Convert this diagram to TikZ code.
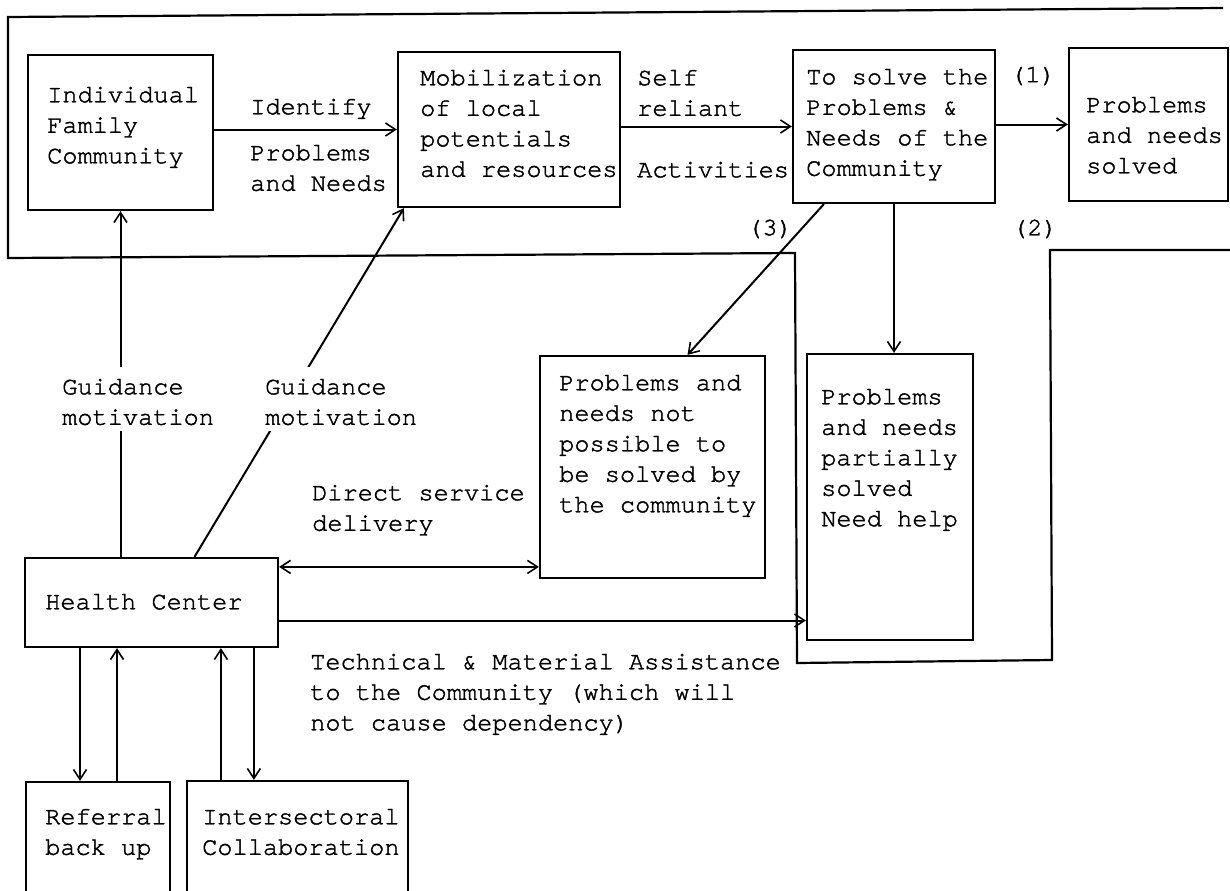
\documentclass[tikz,border=0pt]{standalone}
\usepackage{fontspec}
\newfontfamily\tw{TeX Gyre Cursor}[FakeBold=1.6]
\usetikzlibrary{arrows.meta,fit,calc}
\begin{document}
\begin{tikzpicture}[x=1bp,y=-1bp,
  box/.style={draw, line width=2.2bp, inner sep=0pt},
  txt/.style={font=\tw\fontsize{25.3bp}{30.5bp}\selectfont, align=left,
              inner sep=0pt, anchor=north west},
  gap/.style={txt, fill=white, inner xsep=2bp, inner ysep=6bp},
  barb/.tip={Straight Barb[length=10bp,width=13bp,line width=1.6bp]},
  arr/.style={line width=2bp, -barb},
  darr/.style={line width=2bp, barb-barb},
  wire/.style={line width=2.2bp, line join=miter}
]
\useasboundingbox (0,0) rectangle (1230,891);
\clip (0,0) rectangle (1230,891);

% community frame
\draw[wire] (1223,8) -- (8,17) -- (8,258) -- (795,253) -- (797,663)
            -- (1052,660) -- (1050,250) -- (1232,250);

% boxes
\node[box, fit={(28,55) (213,210)}]    (ind)   {};
\node[box, fit={(398,52) (620,207)}]   (mob)   {};
\node[box, fit={(793,50) (995,203)}]   (sol)   {};
\node[box, fit={(1069,48) (1228,201)}] (done)  {};
\node[box, fit={(540,356) (765,578)}]  (notp)  {};
\node[box, fit={(807,354) (973,640)}]  (part)  {};
\node[box, fit={(25,558) (278,647)}]   (hc)    {};
\node[box, fit={(26,782) (170,905)}]   (ref)   {};
\node[box, fit={(187,781) (408,905)}]  (inter) {};

% box texts
\node[txt] (indT)   at (47,80.7)    {\strut Individual\\Family\\Community};
\node[txt] (mobT)   at (420,63.7)   {\strut Mobilization\\of local\\potentials\\and resources};
\node[txt] (solT)   at (806,62.7)   {\strut To solve the\\Problems \&\\Needs of the\\Community};
\node[txt] (doneT)  at (1086,90.7)  {\strut Problems\\and needs\\solved};
\node[txt] (notpT)  at (559,368.7)  {\strut Problems and\\needs not\\possible to\\be solved by\\the community};
\node[txt] (partT)  at (821,382.7)  {\strut Problems\\and needs\\partially\\solved\\Need help};
\node[txt] (hcT)    at (45,587.7)   {\strut Health Center};
\node[txt] (refT)   at (45,802.7)   {\strut Referral\\back up};
\node[txt] (interT) at (202,802.7)  {\strut Intersectoral\\Collaboration};

% flow along the top row
\draw[arr] (ind.east |- mob.west) -- (mob.west);
\draw[arr] (mob.east |- sol.west) -- (sol.west);
\draw[arr] (sol.east |- done.west) -- (done.west);

% outcomes (2) and (3)
\draw[arr] ([xshift=32bp]sol.south west) -- ([xshift=35bp]notp.north);
\draw[arr] (sol.south) -- (sol.south |- part.north);

% health center links
\draw[arr] (hc.north -| ind.south) -- (ind.south);
\draw[arr] ([xshift=43bp]hc.north) -- ([xshift=7bp]mob.south west);
\draw[darr] ([yshift=-10bp]hc.north east) -- ([yshift=-10bp]hc.north east -| notp.west);
\draw[arr] ([yshift=-18bp]hc.east) -- ([yshift=-18bp]hc.east -| part.west);

\draw[arr] ([xshift=-18bp]ref.north |- hc.south) -- ([xshift=-18bp]ref.north);
\draw[arr] ([xshift=19bp]ref.north) -- ([xshift=19bp]ref.north |- hc.south);
\draw[arr] ([xshift=35bp]inter.north west) -- ([xshift=35bp]inter.north west |- hc.south);
\draw[arr] ([xshift=68bp]inter.north west |- hc.south) -- ([xshift=68bp]inter.north west);

% connector labels
\node[txt] (lblId)   at (250,92.7)  {\strut Identify};
\node[txt] (lblPN)   at (250,138.7) {\strut Problems\\and Needs};
\node[txt] (lblSR)   at (637,63.7)  {\strut Self\\reliant};
\node[txt] (lblAct)  at (637,155.7) {\strut Activities};
\node[txt] (lbl1)    at (1010,60.7) {\strut (1)};
\node[txt] (lbl2)    at (1012,213.7) {\strut (2)};
\node[txt] (lbl3)    at (747,213.7) {\strut (3)};
\node[gap] (lblGM1)  at (60,366.7)  {\strut Guidance\\motivation};
\node[gap] (lblGM2)  at (263,366.7) {\strut Guidance\\motivation};
\node[txt] (lblDS)   at (312,478.7) {\strut Direct service\\delivery};
\node[txt] (lblTM)   at (310,647.7) {\strut Technical \& Material Assistance\\to the Community (which will\\not cause dependency)};
\end{tikzpicture}
\end{document}
